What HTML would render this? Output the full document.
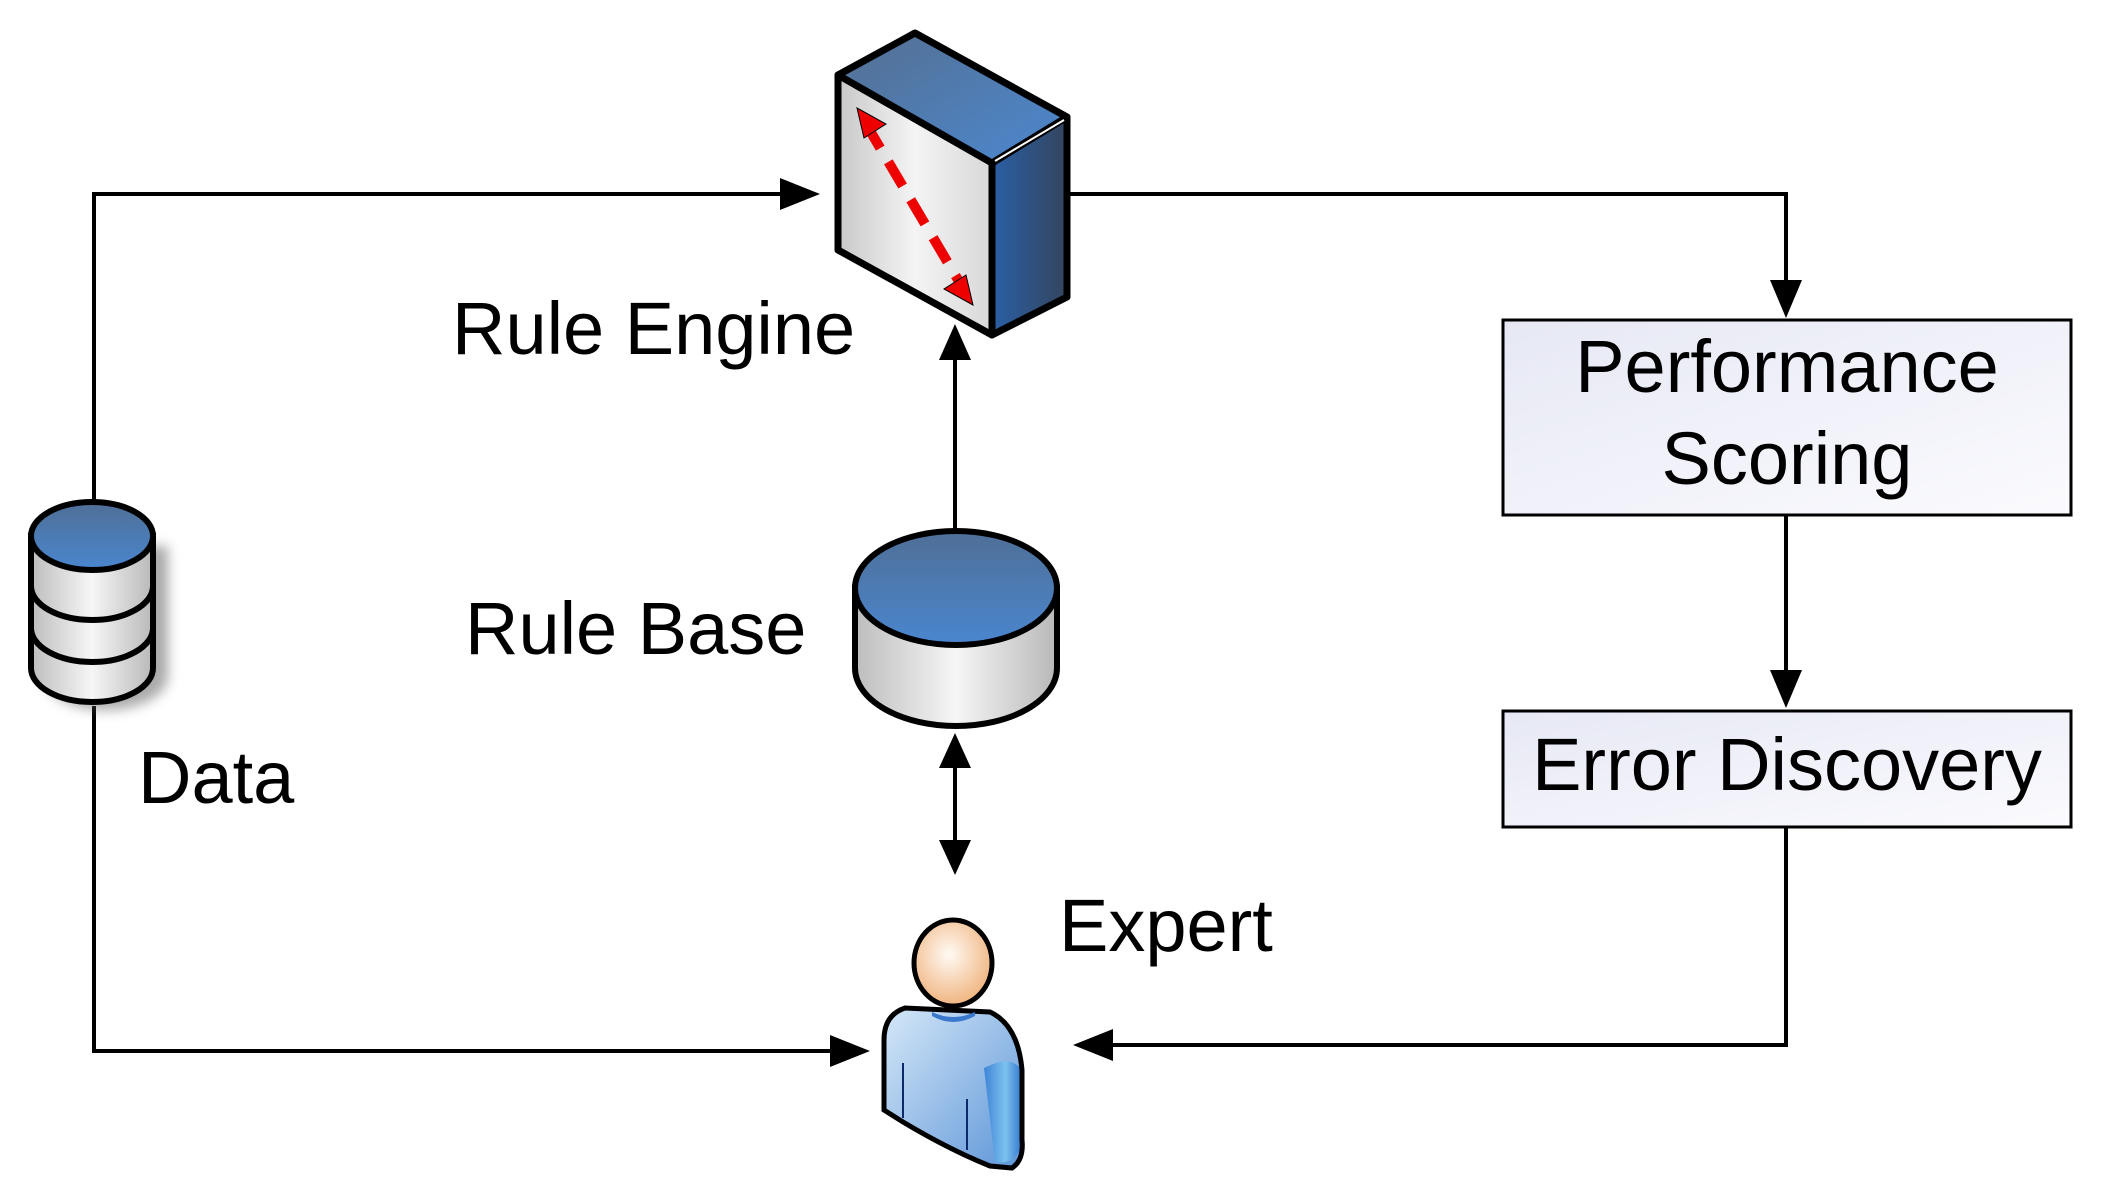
<!DOCTYPE html>
<html><head><meta charset="utf-8"><style>
html,body{margin:0;padding:0;background:#fff;}
svg{display:block;}
text{font-family:"Liberation Sans",sans-serif;fill:#000;}
</style></head><body>
<svg width="2104" height="1190" viewBox="0 0 2104 1190" xmlns="http://www.w3.org/2000/svg">
<defs>
<linearGradient id="blueTop" x1="0" y1="0" x2="0" y2="1"><stop offset="0" stop-color="#4f6f96"/><stop offset="1" stop-color="#4a86cf"/></linearGradient>
<linearGradient id="blueTop2" x1="0" y1="0" x2="1" y2="1"><stop offset="0" stop-color="#556f90"/><stop offset="1" stop-color="#4b88d0"/></linearGradient>
<linearGradient id="side" x1="0" y1="0" x2="1" y2="0"><stop offset="0" stop-color="#2a5fa5"/><stop offset="1" stop-color="#34455e"/></linearGradient>
<linearGradient id="front" x1="0" y1="0" x2="1" y2="0"><stop offset="0" stop-color="#c8c8c8"/><stop offset="0.5" stop-color="#f4f4f4"/><stop offset="1" stop-color="#d8d8d8"/></linearGradient>
<linearGradient id="cylBody" x1="0" y1="0" x2="1" y2="0"><stop offset="0" stop-color="#bdbdbd"/><stop offset="0.5" stop-color="#f6f6f6"/><stop offset="1" stop-color="#b8b8b8"/></linearGradient>
<linearGradient id="box" x1="0" y1="0" x2="1" y2="1"><stop offset="0" stop-color="#e6e8f4"/><stop offset="1" stop-color="#fbfbfe"/></linearGradient>
<radialGradient id="head" cx="0.45" cy="0.4" r="0.6"><stop offset="0" stop-color="#fffaf4"/><stop offset="1" stop-color="#f0b47f"/></radialGradient>
<linearGradient id="body" x1="0" y1="0" x2="1" y2="1"><stop offset="0" stop-color="#d5e8f8"/><stop offset="1" stop-color="#5d95d8"/></linearGradient>
<linearGradient id="arm" x1="0" y1="0" x2="1" y2="0"><stop offset="0" stop-color="#3f84d6"/><stop offset="0.6" stop-color="#7cc2ee"/><stop offset="1" stop-color="#3a7fd0"/></linearGradient>
<filter id="sh" x="-30%" y="-30%" width="160%" height="160%"><feGaussianBlur stdDeviation="6"/></filter>
</defs>

<g stroke="#000" stroke-width="4" fill="none">
<polyline points="94,506 94,194 800,194"/>
<polyline points="94,706 94,1051 850,1051"/>
<polyline points="1069,194 1786,194 1786,296"/>
<line x1="1786" y1="515" x2="1786" y2="686"/>
<polyline points="1786,827 1786,1045 1093,1045"/>
<line x1="955" y1="533" x2="955" y2="348"/>
<line x1="955" y1="756" x2="955" y2="852"/>
</g>
<g fill="#000">
<polygon points="820,194 780,178 780,210"/>
<polygon points="870,1051 830,1035 830,1067"/>
<polygon points="1786,318 1770,280 1802,280"/>
<polygon points="1786,708 1770,670 1802,670"/>
<polygon points="1073,1045 1113,1029 1113,1061"/>
<polygon points="955,324 939,360 971,360"/>
<polygon points="955,733 939,768 971,768"/>
<polygon points="955,875 939,840 971,840"/>
</g>

<g>
<path d="M36,540 L36,670 A62,34 0 0 0 160,670 L160,540 Z" fill="#555" filter="url(#sh)" opacity="0.5" transform="translate(8,6)"/>
<path d="M31,536 L31,668 A61,34 0 0 0 153,668 L153,536 Z" fill="url(#cylBody)" stroke="#000" stroke-width="6"/>
<ellipse cx="92" cy="536" rx="61" ry="34" fill="url(#blueTop)" stroke="#000" stroke-width="6"/>
<path d="M31,586 A61,34 0 0 0 153,586" fill="none" stroke="#000" stroke-width="6"/>
<path d="M31,628 A61,34 0 0 0 153,628" fill="none" stroke="#000" stroke-width="6"/>
</g>

<g stroke="#000" stroke-width="7" stroke-linejoin="round">
<polygon points="838,75 992,163 992,335 838,250" fill="url(#front)"/>
<polygon points="992,163 1067,117 1067,297 992,335" fill="url(#side)"/>
<polygon points="838,75 915,33 1067,117 992,163" fill="url(#blueTop2)"/>
</g>
<line x1="995" y1="161" x2="1064" y2="120" stroke="#fff" stroke-width="2"/>
<g stroke="#e00" stroke-width="10" stroke-dasharray="28,16" fill="none">
<line x1="866" y1="124" x2="964" y2="290"/>
</g>
<g fill="#e00" stroke="#000" stroke-width="1">
<polygon points="857,108 886,124 864,138"/>
<polygon points="973,305 944,289 966,275"/>
</g>

<g>
<path d="M855,588 L855,668 A101,58 0 0 0 1057,668 L1057,588 Z" fill="url(#cylBody)" stroke="#000" stroke-width="6"/>
<ellipse cx="956" cy="588" rx="101" ry="57" fill="url(#blueTop)" stroke="#000" stroke-width="6"/>
</g>

<path d="M905,1008 Q884,1015 884,1040 L884,1110 L903,1122 Q950,1150 990,1166 L1012,1168 Q1024,1160 1022,1140 L1022,1070 Q1018,1025 990,1012 Z" fill="url(#body)"/>
<path d="M984,1068 Q1010,1055 1020,1068 L1020,1150 Q1012,1165 995,1162 Z" fill="url(#arm)"/>
<path d="M884,1040 L884,1110 L903,1122 Q950,1150 990,1166 L1012,1168 Q1024,1160 1022,1140 L1022,1070 Q1018,1025 990,1012 L905,1008 Q884,1015 884,1040 Z" fill="none" stroke="#000" stroke-width="5"/>
<path d="M932,1012 Q953,1022 975,1012 L975,1016 Q953,1028 932,1016 Z" fill="#3a78cc"/>
<line x1="903" y1="1063" x2="903" y2="1118" stroke="#0a2a6a" stroke-width="2"/>
<line x1="967" y1="1099" x2="967" y2="1150" stroke="#0a2a6a" stroke-width="2"/>
<ellipse cx="953" cy="963" rx="39" ry="43" fill="url(#head)" stroke="#000" stroke-width="5"/>

<rect x="1503" y="320" width="568" height="195" fill="url(#box)" stroke="#000" stroke-width="3"/>
<rect x="1503" y="711" width="568" height="116" fill="url(#box)" stroke="#000" stroke-width="3"/>

<g font-size="74">
<text x="452" y="354">Rule Engine</text>
<text x="465" y="654">Rule Base</text>
<text x="138" y="803">Data</text>
<text x="1059" y="951">Expert</text>
<text x="1787" y="392" text-anchor="middle">Performance</text>
<text x="1787" y="484" text-anchor="middle">Scoring</text>
<text x="1787" y="790" text-anchor="middle">Error Discovery</text>
</g>
</svg>
</body></html>
